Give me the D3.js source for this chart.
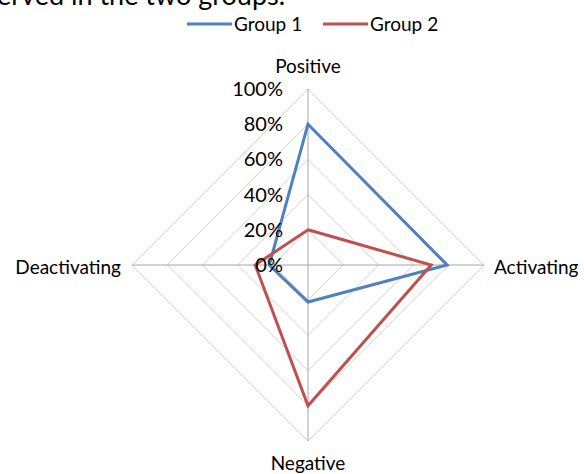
<!DOCTYPE html>
<html>
<head>
<meta charset="utf-8">
<script src="https://cdn.jsdelivr.net/npm/d3@7"></script>
<style>
  body { margin:0; background:#fff; overflow:hidden; }
  svg { display:block; }
  text { font-family: Lato, "Open Sans", sans-serif; fill:#000; }
</style>
</head>
<body>
<svg></svg>
<script>
var width = 584;
var height = 474;

// data
var axes = ["Positive", "Activating", "Negative", "Deactivating"];
var group1 = [0.80, 0.79, 0.21, 0.22];
var group2 = [0.20, 0.70, 0.80, 0.30];
var seriesNames = ["Group 1", "Group 2"];
var seriesColors = ["#4f81bd", "#c0504d"];
var ticks = [0, 0.2, 0.4, 0.6, 0.8, 1.0];

var cx = 308, cy = 265;

var svg = d3.select("svg").attr("width", width).attr("height", height);

// cut-off text line from the document above the chart
svg.append("text")
  .attr("x", -3)
  .attr("y", 5)
  .attr("font-size", "27px")
  .text("erved in the two groups.");

var r = d3.scaleLinear().domain([0, 1]).range([0, 176]);
var angle = d3.scalePoint().domain(d3.range(axes.length + 1)).range([0, 2 * Math.PI]);

var g = svg.append("g").attr("transform", "translate(" + cx + "," + cy + ")");

function pt(i, v) {
  var a = angle(i);
  return [r(v) * Math.sin(a), -r(v) * Math.cos(a)];
}

// grid rings (diamonds)
g.selectAll(".ring")
  .data(ticks.filter(function(d) { return d > 0; }))
  .enter().append("path")
  .attr("class", "ring")
  .attr("d", function(t) {
    return d3.line()(axes.map(function(a, i) { return pt(i, t); })) + "Z";
  })
  .attr("fill", "none")
  .attr("stroke", "#d0d0d0")
  .attr("stroke-width", 1);

// spokes
g.selectAll(".spoke")
  .data(axes)
  .enter().append("line")
  .attr("x1", 0).attr("y1", 0)
  .attr("x2", function(d, i) { return pt(i, 1)[0]; })
  .attr("y2", function(d, i) { return pt(i, 1)[1]; })
  .attr("stroke", "#a6a6a6")
  .attr("stroke-width", 1);

// series
var series = [group1, group2];
var radial = d3.lineRadial()
  .angle(function(d, i) { return angle(i); })
  .radius(function(d) { return r(d); })
  .curve(d3.curveLinearClosed);

g.selectAll(".series")
  .data(series)
  .enter().append("path")
  .attr("d", radial)
  .attr("fill", "none")
  .attr("stroke", function(d, i) { return seriesColors[i]; })
  .attr("stroke-width", 3)
  .attr("stroke-linejoin", "miter");

// tick labels
g.selectAll(".tick")
  .data(ticks)
  .enter().append("text")
  .attr("x", -25)
  .attr("y", function(t) { return -r(t); })
  .attr("dy", "0.35em")
  .attr("text-anchor", "end")
  .attr("font-size", "20px")
  .text(function(t) { return d3.format(".0%")(t); });

// axis labels
var labelPos = [
  { x: 0, y: -r(1) - 23, anchor: "middle" },
  { x: r(1) + 10, y: 2, anchor: "start" },
  { x: 0, y: r(1) + 22, anchor: "middle" },
  { x: -r(1) - 11, y: 2, anchor: "end" }
];
g.selectAll(".axisLabel")
  .data(axes)
  .enter().append("text")
  .attr("x", function(d, i) { return labelPos[i].x; })
  .attr("y", function(d, i) { return labelPos[i].y; })
  .attr("dy", "0.35em")
  .attr("text-anchor", function(d, i) { return labelPos[i].anchor; })
  .attr("font-size", "19px")
  .text(function(d) { return d; });

// legend
var legend = svg.append("g").attr("transform", "translate(187,24)");
var item = legend.selectAll(".item")
  .data(seriesNames)
  .enter().append("g")
  .attr("transform", function(d, i) { return "translate(" + (i * 136) + ",0)"; });
item.append("line")
  .attr("x1", 0).attr("x2", 45)
  .attr("y1", 0).attr("y2", 0)
  .attr("stroke", function(d, i) { return seriesColors[i]; })
  .attr("stroke-width", 3);
item.append("text")
  .attr("x", 47)
  .attr("y", 0)
  .attr("dy", "0.35em")
  .attr("font-size", "19px")
  .text(function(d) { return d; });
</script>
</body>
</html>
